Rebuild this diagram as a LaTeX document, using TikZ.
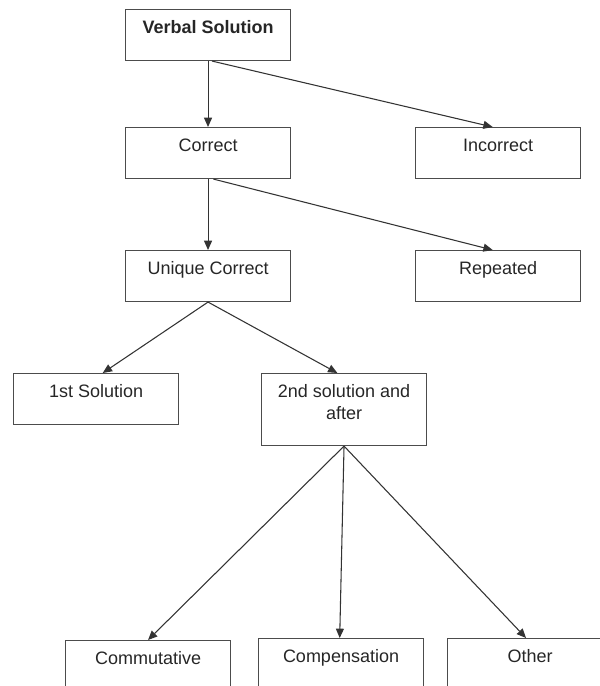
\documentclass[tikz,border=0pt]{standalone}
\usepackage{fontspec}
\setmainfont{Liberation Sans}
\usetikzlibrary{arrows.meta}

\begin{document}
\begin{tikzpicture}[
  x=0.75pt, y=-0.75pt,
  font=\fontsize{13.5}{16.5}\selectfont,
  >={Triangle[length=7pt,width=6pt]},
  arr/.style={->, line width=0.8pt, draw=black!80},
  box/.style={draw=black!70, line width=0.8pt, anchor=north west, align=center,
              text=black!85, minimum width=123.75pt, inner xsep=2pt, inner ysep=0pt,
              text height=17.6pt, text depth=20.65pt},
]
\useasboundingbox (0,0) rectangle (600,686);
\clip (0,0) rectangle (600,686);

%% ===== TOP LEVELS =====
\node[box] (verbal) at (125,9) {\textbf{Verbal Solution}};

\node[box] (correct)   at (125,127) {Correct};
\node[box] (incorrect) at (415,127) {Incorrect};

\node[box] (unique)   at (125,250) {Unique Correct};
\node[box] (repeated) at (415,250) {Repeated};

%% ===== SOLUTION ORDER =====
\node[box] (first)  at (13,373)  {1st Solution};
\node[box, text height=34.1pt, text depth=19.9pt] (second) at (261,373)
    {2nd solution and\\after};

%% ===== STRATEGIES =====
\node[box] (commut)  at (65,640)  {Commutative};
\node[box] (compens) at (258,638) {Compensation};
\node[box] (other)   at (447,638) {Other};

%% ===== CONNECTING ARROWS =====
\draw[arr] (verbal.south) -- (correct.north);
\draw[arr] ([xshift=3pt]verbal.south) -- ([xshift=-4pt]incorrect.north);

\draw[arr] (correct.south) -- (unique.north);
\draw[arr] ([xshift=4pt]correct.south) -- ([xshift=-4pt]repeated.north);

\draw[arr] (unique.south) -- ([xshift=5pt]first.north);
\draw[arr] (unique.south) -- ([xshift=-5pt]second.north);

\draw[arr] (second.south) -- (commut.north);
\draw[arr] (second.south) -- ([xshift=-1pt]compens.north);
\draw[arr] (second.south) -- ([xshift=-3pt]other.north);

\end{tikzpicture}
\end{document}
